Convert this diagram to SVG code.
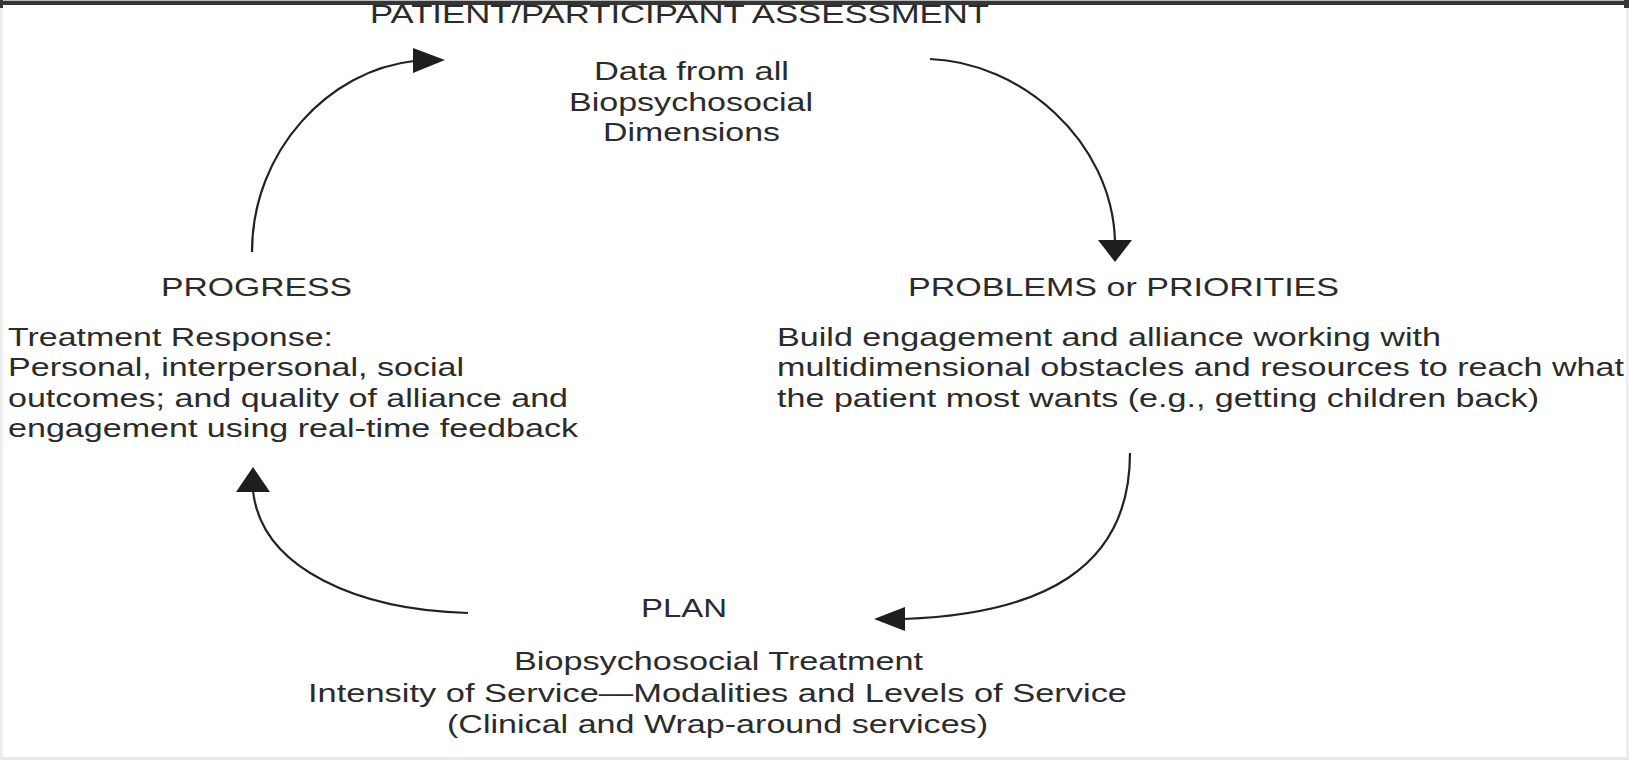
<svg xmlns="http://www.w3.org/2000/svg" width="1629" height="760" viewBox="0 0 1629 760">
  <style>
    .t { font-family: "Liberation Sans", Arial, sans-serif; font-size: 26px; fill: #2b2b2b; }
    .c { text-anchor: start; }
    .conn { fill: none; stroke: #222; stroke-width: 2.2; }
    .head { fill: #1e1e1e; stroke: none; }
  </style>
  <rect x="0" y="0" width="1629" height="760" fill="#ffffff"/>
  <g id="frame">
    <rect x="0" y="0" width="3" height="760" fill="#eeeeee"/>
    <rect x="1626" y="0" width="3" height="760" fill="#eeeeee"/>
    <rect x="0" y="757" width="1629" height="3" fill="#e8e8e8"/>
    <rect x="0" y="0" width="1629" height="1" fill="#bbbbbb"/>
    <rect x="0" y="1" width="1629" height="4" fill="#363636"/>
    <rect x="0" y="0" width="3" height="8" fill="#363636"/>
    <rect x="1624" y="0" width="5" height="8" fill="#363636"/>
  </g>
  <g id="assessment">
    <text class="t" x="370" y="23" textLength="619" lengthAdjust="spacingAndGlyphs">PATIENT/PARTICIPANT ASSESSMENT</text>
    <text class="t" x="594" y="80" textLength="195" lengthAdjust="spacingAndGlyphs">Data from all</text>
    <text class="t" x="569" y="111" textLength="244" lengthAdjust="spacingAndGlyphs">Biopsychosocial</text>
    <text class="t" x="603" y="141" textLength="177" lengthAdjust="spacingAndGlyphs">Dimensions</text>
  </g>
  <g id="progress">
    <text class="t" x="161" y="296" textLength="191" lengthAdjust="spacingAndGlyphs">PROGRESS</text>
    <text class="t" x="8" y="346" textLength="325" lengthAdjust="spacingAndGlyphs">Treatment Response:</text>
    <text class="t" x="8" y="376" textLength="456" lengthAdjust="spacingAndGlyphs">Personal, interpersonal, social</text>
    <text class="t" x="8" y="407" textLength="560" lengthAdjust="spacingAndGlyphs">outcomes; and quality of alliance and</text>
    <text class="t" x="8" y="437" textLength="570" lengthAdjust="spacingAndGlyphs">engagement using real-time feedback</text>
  </g>
  <g id="problems">
    <text class="t" x="908" y="296" textLength="431" lengthAdjust="spacingAndGlyphs">PROBLEMS or PRIORITIES</text>
    <text class="t" x="777" y="346" textLength="664" lengthAdjust="spacingAndGlyphs">Build engagement and alliance working with</text>
    <text class="t" x="777" y="376" textLength="847" lengthAdjust="spacingAndGlyphs">multidimensional obstacles and resources to reach what</text>
    <text class="t" x="777" y="407" textLength="762" lengthAdjust="spacingAndGlyphs">the patient most wants (e.g., getting children back)</text>
  </g>
  <g id="plan">
    <text class="t" x="641" y="617" textLength="86" lengthAdjust="spacingAndGlyphs">PLAN</text>
    <text class="t" x="514" y="670" textLength="409" lengthAdjust="spacingAndGlyphs">Biopsychosocial Treatment</text>
    <text class="t" x="308" y="702" textLength="819" lengthAdjust="spacingAndGlyphs">Intensity of Service—Modalities and Levels of Service</text>
    <text class="t" x="447" y="733" textLength="541" lengthAdjust="spacingAndGlyphs">(Clinical and Wrap-around services)</text>
  </g>
  <g id="connectors">
    <path class="conn" d="M252,252 C252,150 330,70 414,61"/>
    <polygon class="head" points="445,60 413,48 413,73"/>
    <path class="conn" d="M930,59 C1020,62 1112,140 1115,241"/>
    <polygon class="head" points="1115,262 1098,240 1132,240"/>
    <path class="conn" d="M1130,453 C1130,570 1040,614 904,619"/>
    <polygon class="head" points="874,619 905,607 905,631"/>
    <path class="conn" d="M468,613 C360,610 262,570 253,491"/>
    <polygon class="head" points="253,467 236,492 270,492"/>
  </g>
</svg>
